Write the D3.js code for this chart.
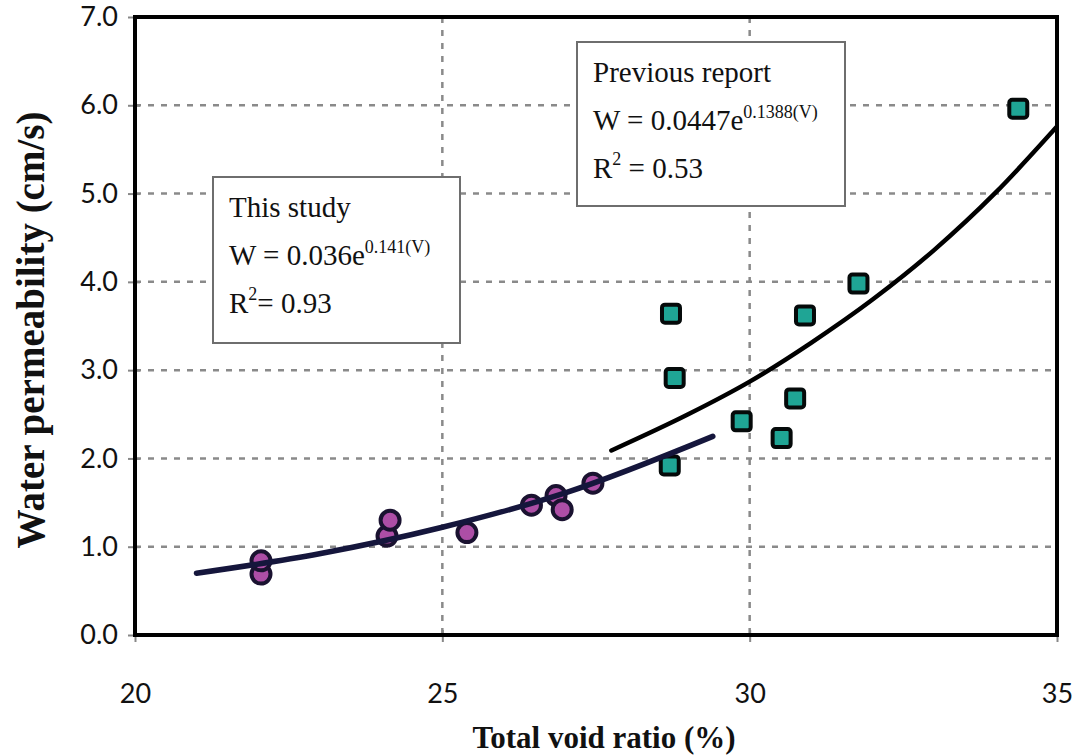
<!DOCTYPE html>
<html>
<head>
<meta charset="utf-8">
<script src="https://cdn.jsdelivr.net/npm/d3@7/dist/d3.min.js"></script>
<style>
    body { margin: 0; background: #fff; }
    svg { display: block; }
</style>
</head>
<body>
<svg class="js-chart"></svg>
<script>
/* global d3 */
var voidTicks = [20, 25, 30, 35];
var permTicks = [0, 1, 2, 3, 4, 5, 6, 7];

// this study (circles)
var studyVoid = [22.05, 22.05, 24.1, 24.15, 25.4, 26.45, 26.85, 26.95, 27.45];
var studyPerm = [0.69, 0.84, 1.12, 1.30, 1.16, 1.47, 1.58, 1.42, 1.72];

// previous report (squares)
var reportVoid = [28.7, 28.72, 28.78, 29.87, 30.52, 30.74, 30.9, 31.77, 34.37];
var reportPerm = [1.92, 3.64, 2.91, 2.42, 2.23, 2.68, 3.62, 3.98, 5.96];

// trend curves
var studyFitVoid = [21.0, 23.0, 25.0, 27.0, 29.4];
var studyFitPerm = [0.70, 0.92, 1.22, 1.61, 2.25];
var reportFitVoid = [27.75, 29.0, 30.0, 31.0, 32.0, 33.0, 34.0, 35.0];
var reportFitPerm = [2.09, 2.50, 2.87, 3.31, 3.80, 4.36, 5.01, 5.76];

var chart = {
    margin: { top: 17, right: 24, bottom: 120, left: 135 },

    serif: "'Liberation Serif', 'Times New Roman', serif",

    init: function (size) {
        this.el = d3.select(".js-chart")
            .attr("width", size.width)
            .attr("height", size.height);

        this.width  = size.width - this.margin.left - this.margin.right;
        this.height = size.height - this.margin.top - this.margin.bottom;

        this.x = d3.scaleLinear().domain([20, 35]).range([0, this.width]);
        this.y = d3.scaleLinear().domain([0, 7]).range([this.height, 0]);

        this.draw();
    },

    draw: function () {
        var g, x = this.x, y = this.y, w = this.width, h = this.height, line;

        g = this.el.append("g")
            .attr("transform", "translate(" + this.margin.left + "," + this.margin.top + ")");

        g.append("defs").append("clipPath").attr("id", "plot")
            .append("rect").attr("width", w).attr("height", h);

        // grid
        g.append("g").selectAll("line").data(voidTicks.slice(1, -1))
            .enter().append("line")
                .attr("x1", x).attr("x2", x)
                .attr("y1", 0).attr("y2", h)
                .attr("stroke", "#8a8a8a").attr("stroke-width", 2.5)
                .attr("stroke-dasharray", "6,7");
        g.append("g").selectAll("line").data(permTicks.slice(1, -1))
            .enter().append("line")
                .attr("x1", 0).attr("x2", w)
                .attr("y1", y).attr("y2", y)
                .attr("stroke", "#8a8a8a").attr("stroke-width", 2.5)
                .attr("stroke-dasharray", "6,7");

        // axes
        g.append("g")
            .attr("transform", "translate(0," + h + ")")
            .call(d3.axisBottom(x).tickValues(voidTicks).tickSize(7).tickPadding(42))
            .call(function (a) {
                a.select(".domain").remove();
                a.selectAll(".tick line").attr("stroke", "#888").attr("stroke-width", 2).attr("y1", -5);
                a.selectAll("text").attr("font-family", "Lato, sans-serif")
                    .attr("font-size", 27).attr("fill", "#111");
            });
        g.append("g")
            .call(d3.axisLeft(y).tickValues(permTicks).tickFormat(d3.format(".1f")).tickSize(7).tickPadding(10))
            .call(function (a) {
                a.select(".domain").remove();
                a.selectAll(".tick line").attr("stroke", "#888").attr("stroke-width", 2).attr("x1", 5);
                a.selectAll("text").attr("font-family", "Lato, sans-serif")
                    .attr("font-size", 27).attr("fill", "#111");
            });

        // markers
        g.append("g").selectAll("circle").data(studyVoid)
            .enter().append("circle")
                .attr("cx", function (d) { return x(d); })
                .attr("cy", function (d, i) { return y(studyPerm[i]); })
                .attr("r", 9.5)
                .attr("fill", "#ad4ea6")
                .attr("stroke", "#1a1230")
                .attr("stroke-width", 4);

        g.append("g").selectAll("rect").data(reportVoid)
            .enter().append("rect")
                .attr("x", function (d) { return x(d) - 9; })
                .attr("y", function (d, i) { return y(reportPerm[i]) - 9; })
                .attr("width", 18).attr("height", 18)
                .attr("rx", 3)
                .attr("fill", "#1fa595")
                .attr("stroke", "#050a0a")
                .attr("stroke-width", 4);

        // trend curves
        line = d3.line()
            .x(function (d) { return x(d[0]); })
            .y(function (d) { return y(d[1]); })
            .curve(d3.curveMonotoneX);

        g.append("path")
            .datum(d3.zip(studyFitVoid, studyFitPerm))
            .attr("d", line)
            .attr("fill", "none")
            .attr("stroke", "#15163c")
            .attr("stroke-width", 5.5)
            .attr("stroke-linecap", "round");

        g.append("path")
            .datum(d3.zip(reportFitVoid, reportFitPerm))
            .attr("clip-path", "url(#plot)")
            .attr("d", line)
            .attr("fill", "none")
            .attr("stroke", "#000")
            .attr("stroke-width", 4.5)
            .attr("stroke-linecap", "round");

        // annotation boxes
        this.note(g, 78, 160, 247, 166, ["This study", "0.036", "0.141(V)", "0.93"], "");
        this.note(g, 442, 25, 268, 164, ["Previous report", "0.0447", "0.1388(V)", "0.53"], " ");

        // frame
        g.append("rect")
            .attr("width", w).attr("height", h)
            .attr("fill", "none")
            .attr("stroke", "#000")
            .attr("stroke-width", 4);

        // axis titles
        this.el.append("text")
            .attr("x", 604)
            .attr("y", 748)
            .attr("text-anchor", "middle")
            .attr("font-family", this.serif)
            .attr("font-weight", "bold")
            .attr("font-size", 31)
            .attr("fill", "#111")
            .text("Total void ratio (%)");

        this.el.append("text")
            .attr("transform", "translate(44," + (this.margin.top + h / 2 + 4) + ") rotate(-90)")
            .attr("text-anchor", "middle")
            .attr("font-family", this.serif)
            .attr("font-weight", "bold")
            .attr("font-size", 39)
            .attr("fill", "#111")
            .text("Water permeability (cm/s)");
    },

    note: function (g, bx, by, bw, bh, lines, gap) {
        var box = g.append("g").attr("transform", "translate(" + bx + "," + by + ")"),
            font = this.serif, t;

        box.append("rect")
            .attr("width", bw).attr("height", bh)
            .attr("fill", "#fff")
            .attr("stroke", "#6e6e6e")
            .attr("stroke-width", 2);

        box.append("text")
            .attr("x", 16).attr("y", 40)
            .attr("font-family", font).attr("font-size", 29).attr("fill", "#111")
            .text(lines[0]);

        t = box.append("text")
            .attr("x", 16).attr("y", 88)
            .attr("font-family", font).attr("font-size", 29).attr("fill", "#111");
        t.append("tspan").text("W = " + lines[1] + "e");
        t.append("tspan").attr("dy", -12).attr("font-size", 18).text(lines[2]);

        t = box.append("text")
            .attr("x", 16).attr("y", 136)
            .attr("font-family", font).attr("font-size", 29).attr("fill", "#111");
        t.append("tspan").text("R");
        t.append("tspan").attr("dy", -13).attr("font-size", 18).text("2");
        t.append("tspan").attr("dy", 13).text(gap + "= " + lines[3]);
    }
};

chart.init({ width: 1081, height: 755 });
</script>
</body>
</html>
